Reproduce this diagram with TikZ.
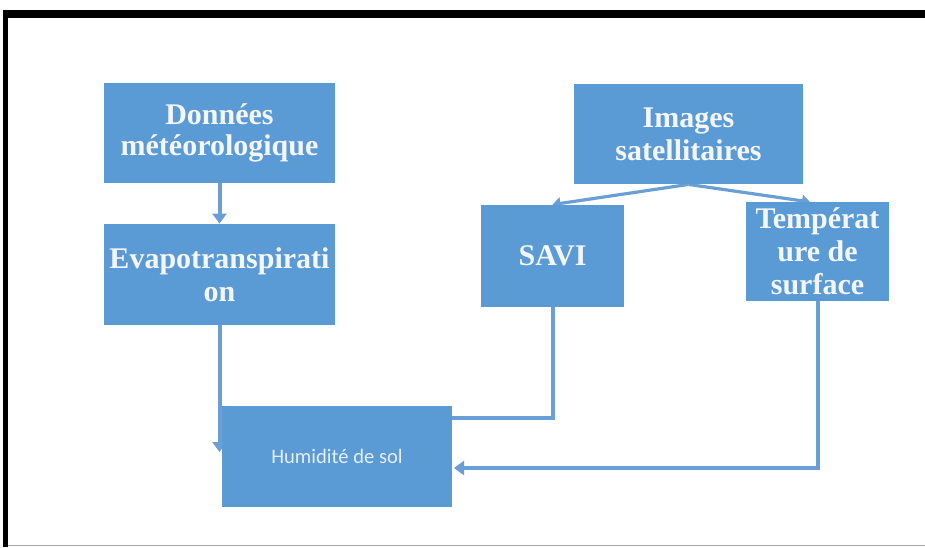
\documentclass[tikz,border=0pt]{standalone}
\usepackage{fontspec}
\setmainfont{Liberation Serif}
\newfontfamily\calib{Carlito}
\usetikzlibrary{arrows.meta,backgrounds}
\definecolor{boxblue}{HTML}{5B9BD5}
\definecolor{lineblue}{HTML}{6A9FD6}
\definecolor{boxtxt}{HTML}{F4F6FA}
\definecolor{humtxt}{HTML}{E4EDF8}
\begin{document}
\begin{tikzpicture}[x=0.5pt,y=-0.5pt,
  bbox/.style={rectangle,fill=boxblue,inner sep=0pt,align=center,text=boxtxt,
     font=\fontsize{15}{16.5}\selectfont\bfseries},
  conn/.style={draw=lineblue,line width=2pt},
  arr/.style={conn,-{Triangle[width=7pt,length=5pt]}},
  arrs/.style={draw=lineblue,line width=1.6pt,-{Triangle[width=6pt,length=4pt]}}]
\useasboundingbox (0,0) rectangle (925,547);
% frame
\fill[black] (3,10) rectangle (925,18);
\fill[black] (3,10) rectangle (8,547);
\draw[gray!70,line width=0.8pt] (8,545.5) -- (925,545.5);
% boxes
\node[bbox,minimum width=115.5pt,minimum height=50pt] (don) at (219.5,133) {\raisebox{-2pt}{Données}\\[1pt]météorologique};
\node[bbox,minimum width=115.5pt,minimum height=50.5pt] (eva) at (219.5,274.5) {Evapotranspirati\\on};
\node[bbox,minimum width=114.5pt,minimum height=50pt] (img) at (688.5,134) {Images\\satellitaires};
\node[bbox,minimum width=71.5pt,minimum height=51pt] (savi) at (552.5,256) {SAVI};
\node[bbox,minimum width=71.5pt,minimum height=49.5pt] (temp) at (817.5,251.5) {Températ\\ure de\\surface};
\node[bbox,minimum width=115pt,minimum height=50.5pt,font=\calib\fontsize{10.3}{12}\selectfont,text=humtxt] (hum) at (337,456.5) {Humidité de sol};
% anchor coordinates
\coordinate (e1) at (219.5,452);
\coordinate (h1) at (452,418);
\coordinate (h2) at (454,468);
\coordinate (t1) at (810,202);
\begin{scope}[on background layer]
\draw[arr] (don.south) -- (eva.north);
\draw[arr] (eva.south) -- (e1);
\draw[conn] (savi.south) |- (h1);
\draw[arrs] (img.south) -- (savi.north);
\draw[arrs] (img.south) -- (t1);
\end{scope}
\draw[arr] (temp.south) |- (h2);
\end{tikzpicture}
\end{document}
